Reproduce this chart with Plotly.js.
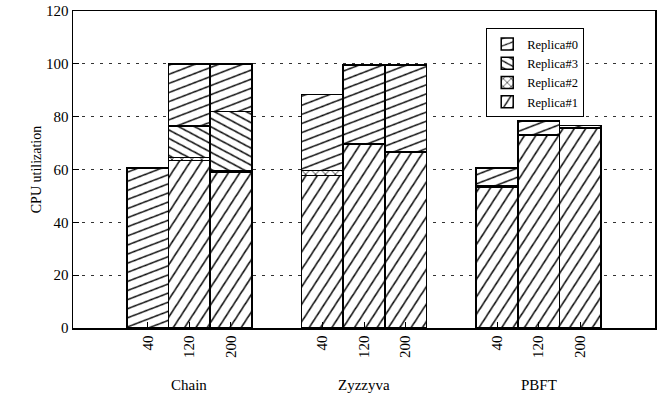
<!DOCTYPE html>
<html>
<head>
<meta charset="utf-8">
<script src="https://cdn.plot.ly/plotly-3.0.1.min.js"></script>
<style>
html,body{margin:0;padding:0;background:#fff;}
#chart{width:661px;height:402px;}
</style>
</head>
<body>
<div id="chart"></div>
<script>
// ---- data ----
var groups = ["Chain", "Zyzzyva", "PBFT"];
var clients = ["40", "120", "200"];
// per bar, order: Chain 40/120/200, Zyzzyva 40/120/200, PBFT 40/120/200
var replica1 = [0, 63.5, 58.8, 57.7, 69.6, 66.4, 53.3, 73.0, 75.8];
var replica2 = [0, 1.0, 0.6, 2.0, 0, 0.5, 0.6, 0, 0];
var replica3 = [0, 12.0, 22.6, 0, 0, 0, 0, 0, 0];
var replica0 = [60.5, 23.5, 18.0, 28.6, 30.0, 32.7, 6.6, 5.4, 0.8];
var yTicks = [0, 20, 40, 60, 80, 100, 120];

// ---- bar slot positions ----
var groupStep = 4.2, firstOffset = 1.8;
var xs = [], xt = [], groupCenters = [];
groups.forEach(function (g, gi) {
  clients.forEach(function (c, ci) {
    xs.push(gi * groupStep + firstOffset + ci);
    xt.push(c);
  });
  groupCenters.push(gi * groupStep + firstOffset + 1);
});

var font = "'Liberation Serif', serif";
var line = {color: "#000", width: 1.5};

function tr(name, y, shape, size, solidity) {
  return {
    type: "bar", name: name, x: xs, y: y, width: 1,
    marker: {
      color: "#fff",
      line: line,
      pattern: {shape: shape, size: size, solidity: solidity, fgcolor: "#000", bgcolor: "#fff", fillmode: "replace"}
    },
    hoverinfo: "skip"
  };
}

var data = [
  tr("Replica#1", replica1, "/", 9.5, 0.16),
  tr("Replica#2", replica2, "x", 7, 0.2),
  tr("Replica#3", replica3, "\\", 7.5, 0.2),
  tr("Replica#0", replica0, "/", 8.5, 0.17)
];
// hatch tilt per trace (degrees), to mimic steep / shallow hatches
var tilt = [-12, 0, -17, 24];

var layout = {
  width: 661, height: 402,
  margin: {l: 73, r: 6, t: 11, b: 74},
  paper_bgcolor: "#fff", plot_bgcolor: "#fff",
  barmode: "stack", bargap: 0,
  font: {family: font, size: 15, color: "#000"},
  showlegend: true,
  legend: {
    x: 0.71, y: 0.945, xanchor: "left", yanchor: "top",
    traceorder: "reversed",
    bgcolor: "#fff", bordercolor: "#000", borderwidth: 1,
    font: {family: font, size: 12.5, color: "#000"},
    tracegroupgap: 0
  },
  xaxis: {
    range: [0, 14], showgrid: false, zeroline: false,
    tickmode: "array", tickvals: xs, ticktext: xt, tickangle: -90,
    ticks: "inside", ticklen: 6, tickcolor: "#000", tickwidth: 1,
    showline: true, linecolor: "#000", linewidth: 1.5, mirror: true,
    tickfont: {family: font, size: 15, color: "#000"}
  },
  yaxis: {
    range: [0, 120], tickmode: "array", tickvals: yTicks,
    showgrid: true, gridcolor: "#333", griddash: "3px,6px", gridwidth: 1,
    zeroline: false,
    ticks: "inside", ticklen: 6, tickcolor: "#000",
    showline: true, linecolor: "#000", linewidth: 1.5, mirror: true,
    tickfont: {family: font, size: 15, color: "#000"},
    title: {text: "CPU utilization", font: {family: font, size: 14, color: "#000"}, standoff: 1}
  },
  annotations: groups.map(function (g, i) {
    return {text: g, x: groupCenters[i], xref: "x", y: -0.18, yref: "paper",
      showarrow: false, xanchor: "center", yanchor: "middle",
      font: {family: font, size: 15, color: "#000"}};
  })
};

function tiltPatterns() {
  var traces = document.querySelectorAll("#chart .barlayer .trace");
  traces.forEach(function (t, i) {
    var p = t.querySelector("path");
    if (!p || !tilt[i]) return;
    var m = (p.getAttribute("style") || "").match(/url\(["']?#([^"')]+)/);
    if (!m) return;
    var id = m[1];
    var pat = document.getElementById(id);
    if (pat) pat.setAttribute("patternTransform", "rotate(" + tilt[i] + ")");
    var lid = id.replace(/^(p[^-]+)-/, "$1-legend-");
    var lp = document.getElementById(lid);
    if (lp) {
      var base = lp.getAttribute("patternTransform") || "";
      lp.setAttribute("patternTransform", (base + " rotate(" + tilt[i] + ")").trim());
    }
  });
}

Plotly.newPlot("chart", data, layout, {staticPlot: true}).then(function () {
  try { tiltPatterns(); } catch (e) {}
});
</script>
</body>
</html>
